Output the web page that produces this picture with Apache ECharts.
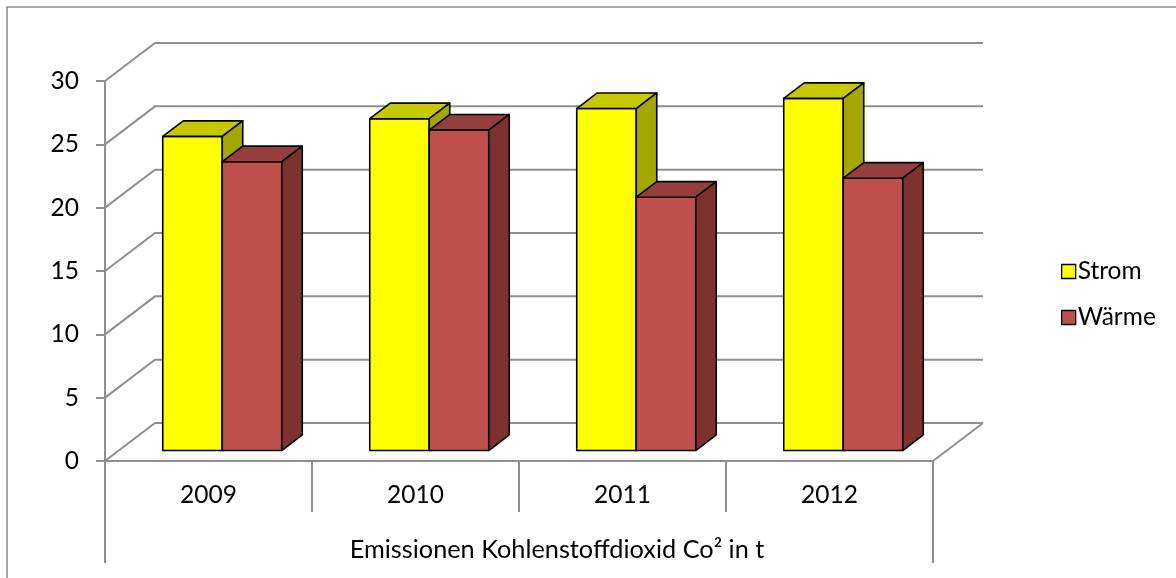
<!DOCTYPE html>
<html>
<head>
<meta charset="utf-8">
<script src="https://cdn.jsdelivr.net/npm/echarts@6/dist/echarts.min.js"></script>
<style>
html,body{margin:0;padding:0;background:#fff;}
#c{width:1176px;height:578px;}
</style>
</head>
<body>
<div id="c"></div>
<script>
// ---- data ----
var categories = ['2009', '2010', '2011', '2012'];
var stromValues = [24.8, 26.2, 27.0, 27.8];
var waermeValues = [22.8, 25.3, 20.0, 21.5];
var seriesNames = ['Strom', 'Wärme'];
var yTicks = [0, 5, 10, 15, 20, 25, 30];
var axisTitle = 'Emissionen Kohlenstoffdioxid Co² in t';

// ---- 3D projection / style constants ----
var DX = 50, DY = -38;       // depth vector of the plot box
var F0 = 0.275;              // depth fraction of bar front faces
var BD = 0.41;               // bar depth fraction
var BAR_FRAC = 0.2875;       // bar width as fraction of category band
var FONT = 'Lato';
var FS = 24.5;
var GRID_COLOR = '#8f8f8f';

var faces = [
  {front: '#FFFF00', top: '#C8C800', side: '#A6A600'},
  {front: '#C0504D', top: '#953E3C', side: '#7D3230'}
];

function barRender(idx) {
  return function (params, api) {
    var cat = api.value(0), val = api.value(1);
    var base = api.coord([cat, 0]);
    var top = api.coord([cat, val]);
    var band = api.size([1, 0])[0];
    var w = band * BAR_FRAC;
    var x0 = base[0] + (idx === 0 ? -w : 0) + DX * F0;
    var x1 = x0 + w;
    var yb = base[1] + DY * F0;
    var yt = top[1] + DY * F0;
    var ddx = DX * BD, ddy = DY * BD;
    var stroke = {stroke: '#000', lineWidth: 1.6, lineJoin: 'round'};
    var f = faces[idx];
    return {
      type: 'group',
      children: [
        {type: 'polygon', shape: {points: [[x0, yb], [x1, yb], [x1, yt], [x0, yt]]},
          style: Object.assign({fill: f.front}, stroke)},
        {type: 'polygon', shape: {points: [[x0, yt], [x1, yt], [x1 + ddx, yt + ddy], [x0 + ddx, yt + ddy]]},
          style: Object.assign({fill: f.top}, stroke)},
        {type: 'polygon', shape: {points: [[x1, yb], [x1 + ddx, yb + ddy], [x1 + ddx, yt + ddy], [x1, yt]]},
          style: Object.assign({fill: f.side}, stroke)}
      ]
    };
  };
}

function gridRender(params, api) {
  var rect = params.coordSys;
  var v = api.value(0);
  var y = api.coord([0, v])[1];
  var lx = rect.x, rx = rect.x + rect.width;
  var ls = {stroke: GRID_COLOR, lineWidth: 2, fill: null};
  var children = [
    {type: 'polyline', shape: {points: [[lx, y], [lx + DX, y + DY], [rx + DX, y + DY]]}, style: ls}
  ];
  if (v === 0) {
    children.push({type: 'line', shape: {x1: rx, y1: y, x2: rx + DX, y2: y + DY}, style: ls});
    children.push({type: 'line', shape: {x1: lx, y1: y, x2: lx, y2: y + 102}, style: ls});
    children.push({type: 'line', shape: {x1: rx, y1: y, x2: rx, y2: y + 102}, style: ls});
  }
  return {type: 'group', children: children};
}

var chart = echarts.init(document.getElementById('c'), null, {renderer: 'canvas'});
chart.setOption({
  backgroundColor: '#fff',
  animation: false,
  textStyle: {fontFamily: FONT},
  graphic: [{type: 'rect', shape: {x: 7, y: 7, width: 1200, height: 620},
    style: {fill: null, stroke: '#8a8a8a', lineWidth: 1.5}, silent: true, z: -10}],
  grid: {left: 105, right: 243, top: 81, bottom: 117},
  legend: {
    orient: 'vertical', left: 1056, top: 254, itemGap: 21,
    itemWidth: 14, itemHeight: 14, icon: 'rect',
    textStyle: {fontFamily: FONT, fontSize: FS, color: '#000', padding: [0, 0, 0, -3]},
    data: [
      {name: seriesNames[0], itemStyle: {color: faces[0].front, borderColor: '#000', borderWidth: 1.3}},
      {name: seriesNames[1], itemStyle: {color: faces[1].front, borderColor: '#000', borderWidth: 1.3}}
    ]
  },
  xAxis: {
    type: 'category', data: categories,
    axisLine: {show: true, lineStyle: {color: GRID_COLOR, width: 2}},
    axisTick: {show: true, length: 51, lineStyle: {color: GRID_COLOR, width: 2}},
    axisLabel: {fontFamily: FONT, fontSize: FS, color: '#000', margin: 22},
    name: axisTitle, nameLocation: 'middle', nameGap: 76,
    nameTextStyle: {fontFamily: FONT, fontSize: 25.3, color: '#000', padding: [0, 0, 0, 76]}
  },
  yAxis: {
    type: 'value', min: 0, max: 30, interval: 5,
    axisLine: {show: true, lineStyle: {color: GRID_COLOR, width: 2}},
    axisTick: {show: true, length: 9, lineStyle: {color: GRID_COLOR, width: 2}},
    axisLabel: {fontFamily: FONT, fontSize: FS, color: '#000', margin: 26},
    splitLine: {show: false}
  },
  series: [
    {type: 'custom', name: 'grid3d', silent: true, renderItem: gridRender,
      data: yTicks.map(function (t) { return [t]; }), encode: {y: 0}, z: 1},
    {type: 'custom', name: seriesNames[0], renderItem: barRender(0),
      itemStyle: {color: faces[0].front},
      data: stromValues.map(function (v, i) { return [i, v]; }), encode: {x: 0, y: 1}, z: 2},
    {type: 'custom', name: seriesNames[1], renderItem: barRender(1),
      itemStyle: {color: faces[1].front},
      data: waermeValues.map(function (v, i) { return [i, v]; }), encode: {x: 0, y: 1}, z: 3}
  ]
});
</script>
</body>
</html>
